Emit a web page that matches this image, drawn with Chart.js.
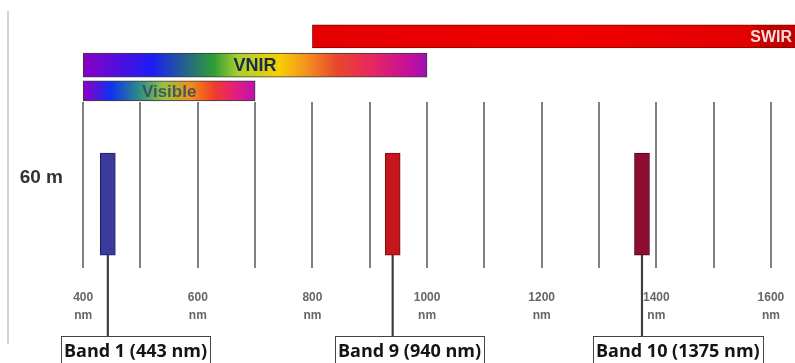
<!DOCTYPE html>
<html>
<head>
<meta charset="utf-8">
<script src="https://cdn.jsdelivr.net/npm/chart.js@4.4.1/dist/chart.umd.min.js"></script>
<style>
  html, body { margin: 0; padding: 0; background: #fff; }
  #wrap { position: relative; width: 795px; height: 363px; overflow: hidden; }
  #frame { position: absolute; left: 7px; top: 11px; width: 2px; height: 333px; background: #d4d4d4; }
  canvas { position: absolute; left: 0; top: 0; }
</style>
</head>
<body>
<div id="wrap"><div id="frame"></div><canvas id="chart-bands" width="795" height="363"></canvas></div>
<script>
/* Sentinel-2 60 m bands against the spectral ranges */

// wavelength axis (nm)
const gridTicks = [400, 500, 600, 700, 800, 900, 1000, 1100, 1200, 1300, 1400, 1500, 1600];
const labelledTicks = [400, 600, 800, 1000, 1200, 1400, 1600];

// spectral ranges (nm)
const rangeNames = ['SWIR', 'VNIR', 'Visible'];
const rangeStart = [800, 400, 400];
const rangeEnd = [1700, 1000, 700];

// 60 m bands (centre wavelength, nm)
const bandNames = ['Band 1', 'Band 9', 'Band 10'];
const bandCentre = [443, 940, 1375];
const resolutionLabel = '60 m';

/* ---- layout (y units of the hidden vertical scale) ---- */
const Y_MIN = 0.25, Y_MAX = 10;
const BAND_FOOT = 1, BAND_TOP = 7, LEADER_FOOT = -3.74, RES_ROW = 5.53;
const RANGE_ROW = { SWIR: 13.85, VNIR: 12.17, Visible: 10.65 };
const RANGE_THICK = { SWIR: 23, VNIR: 24, Visible: 20 };

const FONT = "'Liberation Sans', Arial, sans-serif";

const RANGE_STYLE = {
  SWIR: {
    border: '#8c0000',
    stops: [[0, '#e40000'], [0.5, '#f00000'], [0.85, '#e20000'], [0.87, '#c20000'], [1, '#be0000']],
    text: { color: '#f7dcdc', size: 16, align: 'right' },
  },
  VNIR: {
    border: '#3a3a3a',
    stops: [[0, '#8a00c6'], [0.2, '#1c1cf4'], [0.38, '#2e9e34'], [0.45, '#a8d030'], [0.57, '#f6d000'],
            [0.65, '#f39020'], [0.74, '#e8452e'], [0.83, '#e82a5c'], [0.94, '#c81098'], [1, '#a010b4']],
    text: { color: '#1c2b48', size: 18, align: 'center' },
  },
  Visible: {
    border: '#3a3a3a',
    stops: [[0, '#9000c8'], [0.16, '#1030f0'], [0.32, '#2a8a8a'], [0.47, '#9ac040'], [0.62, '#f09020'],
            [0.7, '#f06020'], [0.77, '#f03a30'], [0.87, '#e62078'], [1, '#c010b0']],
    text: { color: 'rgba(35,68,98,0.78)', size: 17, align: 'center' },
  },
};

const BAND_FILL = ['#3b3b9b', '#c4161c', '#8e0b32'];
const BAND_EDGE = ['#1f1f5f', '#7a0a0e', '#4a0518'];

function spectrumFill(name, i) {
  return ctx => {
    const xs = ctx.chart.scales.x;
    const stops = RANGE_STYLE[name].stops;
    if (!xs) return stops[0][1];
    const x0 = xs.getPixelForValue(rangeStart[i]);
    const x1 = xs.getPixelForValue(rangeEnd[i]);
    if (!isFinite(x0) || !isFinite(x1) || x0 === x1) return stops[0][1];
    const g = ctx.chart.ctx.createLinearGradient(x0, 0, x1, 0);
    stops.forEach(([p, c]) => g.addColorStop(p, c));
    return g;
  };
}

function noEdgePadding(s) {
  s.paddingLeft = 0;
  s.paddingRight = 0;
  s.paddingTop = 0;
  s.paddingBottom = 0;
}

/* ---- labels inside the range bars ---- */
const rangeText = {
  id: 'rangeText',
  afterDatasetsDraw(chart) {
    const ctx = chart.ctx;
    chart.data.datasets.forEach((ds, i) => {
      if (!ds.rangeLabel) return;
      const el = chart.getDatasetMeta(i).data[0];
      const st = RANGE_STYLE[ds.rangeLabel].text;
      ctx.save();
      ctx.font = `bold ${st.size}px ${FONT}`;
      ctx.fillStyle = st.color;
      ctx.textBaseline = 'middle';
      ctx.textAlign = st.align;
      const tx = st.align === 'right' ? Math.min(el.x, chart.width) - 3 : (el.x + el.base) / 2;
      ctx.fillText(ds.rangeLabel, tx, el.y + 1);
      ctx.restore();
    });
  },
};

/* ---- boxed band captions under the axis ---- */
const bandBoxes = {
  id: 'bandBoxes',
  afterDatasetsDraw(chart, args, opts) {
    const { ctx, scales: { x, y } } = chart;
    const top = Math.round(y.getPixelForValue(LEADER_FOOT));
    ctx.save();
    ctx.font = `bold 18px 'Open Sans', ${FONT}`;
    bandNames.forEach((name, i) => {
      const text = `${name} (${bandCentre[i]} nm)`;
      const w = Math.round(ctx.measureText(text).width + opts.padX * 2);
      const left = Math.round(x.getPixelForValue(bandCentre[i]) - opts.shift[i]);
      ctx.fillStyle = '#fff';
      ctx.fillRect(left, top, w, 40);
      ctx.strokeStyle = '#454545';
      ctx.lineWidth = 1;
      ctx.strokeRect(left + 0.5, top + 0.5, w, 40);
      ctx.fillStyle = '#141414';
      ctx.textBaseline = 'middle';
      ctx.textAlign = 'left';
      ctx.fillText(text, left + opts.padX, top + 16);
    });
    ctx.restore();
  },
};

const rangeSets = rangeNames.map((name, i) => ({
  label: name,
  rangeLabel: name,
  indexAxis: 'y',
  data: [{ y: RANGE_ROW[name], x: [rangeStart[i], rangeEnd[i]] }],
  backgroundColor: spectrumFill(name, i),
  borderColor: RANGE_STYLE[name].border,
  borderWidth: 1,
  borderSkipped: false,
  barThickness: RANGE_THICK[name],
  grouped: false,
  clip: false,
  order: 2,
}));

new Chart(document.getElementById('chart-bands'), {
  type: 'bar',
  data: {
    datasets: [
      {
        label: 'bands',
        indexAxis: 'x',
        data: bandCentre.map(c => ({ x: c, y: [BAND_FOOT, BAND_TOP] })),
        backgroundColor: BAND_FILL,
        borderColor: BAND_EDGE,
        borderWidth: 1,
        borderSkipped: false,
        barThickness: 15,
        grouped: false,
        order: 1,
      },
      ...rangeSets,
      {
        label: 'leaders',
        indexAxis: 'x',
        data: bandCentre.map(c => ({ x: c, y: [LEADER_FOOT, BAND_FOOT] })),
        backgroundColor: '#3c3c3c',
        borderWidth: 0,
        barThickness: 1.5,
        grouped: false,
        clip: false,
        order: 3,
      },
    ],
  },
  options: {
    responsive: false,
    animation: false,
    events: [],
    layout: { padding: { top: 102, bottom: 38, left: 0, right: 0 } },
    plugins: {
      legend: { display: false },
      tooltip: { enabled: false },
      bandBoxes: { padX: 3, shift: [47, 58, 49] },
    },
    scales: {
      x: {
        type: 'linear',
        min: 377,
        max: 1642,
        offset: false,
        afterBuildTicks: s => { s.ticks = gridTicks.map(v => ({ value: v })); },
        afterFit: s => { s.height = 57; noEdgePadding(s); },
        grid: { offset: false, color: '#808080', lineWidth: 2, drawTicks: false },
        border: { display: false },
        ticks: {
          autoSkip: false,
          maxRotation: 0,
          padding: 21,
          color: '#666',
          font: { family: FONT, size: 12, weight: 'bold', lineHeight: 1.5 },
          callback: v => labelledTicks.includes(v) ? [String(v), 'nm'] : '',
        },
      },
      y: {
        type: 'linear',
        min: Y_MIN,
        max: Y_MAX,
        offset: false,
        beginAtZero: false,
        afterBuildTicks: s => { s.ticks = [{ value: RES_ROW }]; },
        afterFit: s => { s.width = 70; noEdgePadding(s); },
        grid: { display: false, drawTicks: false, offset: false },
        border: { display: false },
        ticks: {
          padding: 7,
          color: '#333',
          font: { family: FONT, size: 19, weight: 'bold' },
          callback: () => resolutionLabel,
        },
      },
    },
  },
  plugins: [rangeText, bandBoxes],
});
</script>
</body>
</html>
